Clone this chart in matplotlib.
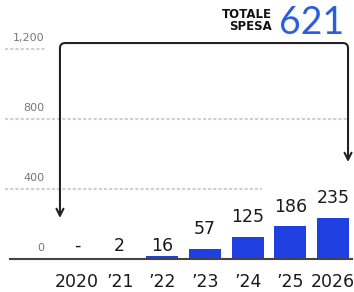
import numpy as np
import matplotlib.pyplot as plt
from matplotlib.path import Path
from matplotlib.patches import FancyArrowPatch

# dati
anni = ["2020", "’21", "’22", "’23", "’24", "’25", "2026"]
spesa = [0, 2, 16, 57, 125, 186, 235]
etichette = ["-", "2", "16", "57", "125", "186", "235"]
tick_y = [0, 400, 800, 1200]
tick_lab = ["0", "400", "800", "1,200"]
totale = "621"

blu = "#1f3fe0"

fig = plt.figure(figsize=(3.54, 2.92), dpi=100)
ax = fig.add_axes([0, 0, 1, 1])
ax.set_xlim(-1.805, 6.49)
ax.set_ylim(-189, 1480)
ax.axis("off")

x = np.arange(len(anni))
ax.bar(x, spesa, width=0.75, color=blu, zorder=3)

# linea di base
ax.plot([-1.57, 6.44], [0, 0], color="#444444", lw=1.5, zorder=4)

# griglia
griglia = dict(color="#d0d0d0", lw=1.5, ls=(0, (1.5, 1)))
ax.plot([-1.69, -0.75], [1200, 1200], **griglia)
ax.plot([-1.69, 6.35], [800, 800], **griglia)
ax.plot([-1.69, 4.34], [400, 400], **griglia)

# etichette asse y
for v, t in zip(tick_y, tick_lab):
    yy = v + 63 if v > 0 else 63
    ax.text(-0.77, yy, t, ha="right", va="center", fontsize=8, color="#777777")

# valori
for i, (v, t) in enumerate(zip(spesa, etichette)):
    yy = v + 112 if v > 30 else 74
    ax.text(i, yy, t, ha="center", va="center", fontsize=12.5, color="#1a1a1a")

# anni
for i, t in enumerate(anni):
    ax.text(i, -131, t, ha="center", va="center", fontsize=12.5, color="#1a1a1a")

# parentesi con frecce
xl, xr, yt = -0.40, 6.35, 1234
rx, ry = 0.12, 29
verts = [(xl, 234), (xl, yt - ry), (xl, yt), (xl + rx, yt),
         (xr - rx, yt), (xr, yt), (xr, yt - ry), (xr, 554)]
codes = [Path.MOVETO, Path.LINETO, Path.CURVE3, Path.CURVE3,
         Path.LINETO, Path.CURVE3, Path.CURVE3, Path.LINETO]
arr = FancyArrowPatch(path=Path(verts, codes), arrowstyle="<->,head_length=5,head_width=2.5",
                      color="#222222", lw=1.5, zorder=5)
ax.add_patch(arr)

# totale
fig.text(272 / 354, 1 - 15 / 292, "TOTALE", ha="right", va="center",
         fontsize=8.5, fontweight="bold", color="#111111")
fig.text(272 / 354, 1 - 27 / 292, "SPESA", ha="right", va="center",
         fontsize=8.5, fontweight="bold", color="#111111")
fig.text(279 / 354, 1 - 23 / 292, totale, ha="left", va="center",
         fontsize=27, fontweight="normal", family=["Lato", "DejaVu Sans"],
         color="#2b5fd9")

fig.savefig("out.png", dpi=100)
